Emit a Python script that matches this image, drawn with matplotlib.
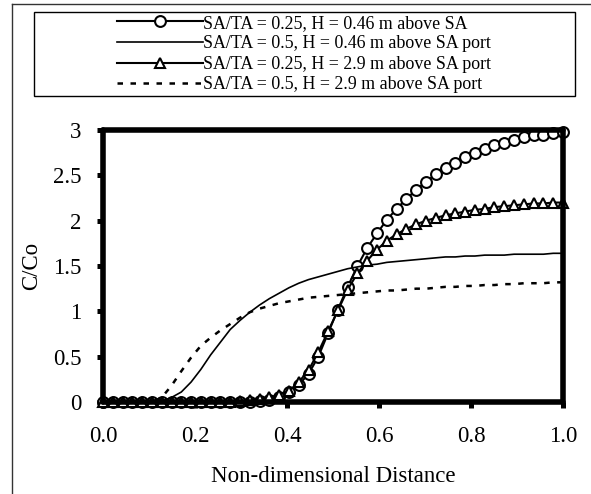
import numpy as np
import matplotlib
matplotlib.use("Agg")
import matplotlib.pyplot as plt
from matplotlib.patches import Rectangle
from matplotlib.lines import Line2D

plt.rcParams['font.family'] = ['Liberation Serif', 'DejaVu Serif']

# non-dimensional distance grid (48 samples, 0 -> 1)
dist = np.linspace(0.0, 1.0, 48)

# SA/TA = 0.25, H = 0.46 m (circles)
c_025_046 = [0, 0, 0, 0, 0, 0, 0, 0, 0, 0, 0, 0, 0, 0, 0, 0,
             0.01, 0.02, 0.05, 0.11, 0.19, 0.31, 0.50, 0.76, 1.02, 1.27,
             1.50, 1.70, 1.86, 2.01, 2.13, 2.24, 2.34, 2.43, 2.51, 2.58,
             2.64, 2.70, 2.75, 2.79, 2.83, 2.86, 2.89, 2.92, 2.94, 2.95,
             2.97, 2.98]
# SA/TA = 0.5, H = 0.46 m (solid)
c_05_046 = [0, 0, 0, 0, 0, 0, 0.01, 0.05, 0.11, 0.22, 0.36, 0.52, 0.66,
            0.80, 0.90, 0.99, 1.07, 1.14, 1.20, 1.26, 1.31, 1.35, 1.38,
            1.41, 1.44, 1.47, 1.49, 1.51, 1.52, 1.54, 1.55, 1.56, 1.57,
            1.58, 1.59, 1.60, 1.60, 1.61, 1.61, 1.62, 1.62, 1.62, 1.63,
            1.63, 1.63, 1.63, 1.64, 1.64]
# SA/TA = 0.25, H = 2.9 m (triangles)
c_025_29 = [0, 0, 0, 0, 0, 0, 0, 0, 0, 0, 0, 0, 0, 0.005, 0.01, 0.02,
            0.03, 0.05, 0.08, 0.12, 0.22, 0.35, 0.55, 0.78, 1.01, 1.24,
            1.42, 1.56, 1.68, 1.78, 1.85, 1.91, 1.96, 2.00, 2.03, 2.06,
            2.08, 2.10, 2.12, 2.13, 2.15, 2.16, 2.17, 2.18, 2.19, 2.19,
            2.20, 2.20]
# SA/TA = 0.5, H = 2.9 m (dashed)
c_05_29 = [0, 0, 0, 0, 0, 0, 0.05, 0.18, 0.34, 0.49, 0.62, 0.71, 0.79,
           0.86, 0.93, 0.99, 1.03, 1.06, 1.09, 1.11, 1.13, 1.15, 1.16,
           1.17, 1.18, 1.19, 1.20, 1.21, 1.22, 1.23, 1.23, 1.24, 1.25,
           1.25, 1.26, 1.27, 1.27, 1.28, 1.28, 1.29, 1.29, 1.30, 1.30,
           1.31, 1.31, 1.31, 1.32, 1.32]

labels = ["SA/TA = 0.25, H = 0.46 m above SA",
          "SA/TA = 0.5, H = 0.46 m above SA port",
          "SA/TA = 0.25, H = 2.9 m above SA port",
          "SA/TA = 0.5, H = 2.9 m above SA port"]

W, H = 591, 494
fig = plt.figure(figsize=(W / 100, H / 100), dpi=100)
ax = fig.add_axes([103 / W, 1 - 402 / H, 460 / W, 272 / H])

l1, = ax.plot(dist, c_025_046, color='black', lw=1.5, marker='o', ms=7.8,
              mfc='white', mec='black', mew=1.5, clip_on=False)
l2, = ax.plot(dist, c_05_046, color='black', lw=1.2, clip_on=False)
l3, = ax.plot(dist, c_025_29, color='black', lw=1.5, marker='^', ms=7.8,
              mfc='white', mec='black', mew=1.5, clip_on=False)
l4, = ax.plot(dist, c_05_29, color='black', lw=1.8, ls=(0, (2.2, 3.0)),
              clip_on=False)

ax.set_xlim(0, 1)
ax.set_ylim(0, 3)
ax.set_xticks([0, 0.2, 0.4, 0.6, 0.8, 1.0])
ax.set_xticklabels(["0.0", "0.2", "0.4", "0.6", "0.8", "1.0"])
ax.set_yticks([0, 0.5, 1, 1.5, 2, 2.5, 3])
ax.set_yticklabels(["0", "0.5", "1", "1.5", "2", "2.5", "3"])
for s in ax.spines.values():
    s.set_linewidth(4)
    s.set_capstyle('round')
ax.tick_params(axis='both', direction='out', length=4.5, width=3.6,
               labelsize=16.5)
ax.tick_params(axis='x', pad=12.5)
ax.tick_params(axis='y', pad=11)
ax.set_xlabel("Non-dimensional Distance", fontsize=16.5, labelpad=14)
ax.set_ylabel("C/Co", fontsize=16.5, labelpad=8)

# legend with a separate wide frame
fig.patches.append(Rectangle((34 / W, 1 - 96 / H), (575 - 34) / W, 84 / H,
                             transform=fig.transFigure, fill=False,
                             edgecolor='black', lw=1.0))
fig.legend([l1, l2, l3, l4], labels, loc='center left',
           bbox_to_anchor=(117 / W, 1 - 54 / H), frameon=False,
           fontsize=12.9, handlelength=4.8, handletextpad=0.0,
           labelspacing=0.2, borderpad=0, borderaxespad=0)

# outer border (top and left only)
fig.lines.append(Line2D([12 / W, 1], [1 - 4 / H, 1 - 4 / H],
                        transform=fig.transFigure, color='#333333', lw=1.0))
fig.lines.append(Line2D([12 / W, 12 / W], [0, 1 - 4 / H],
                        transform=fig.transFigure, color='#333333', lw=1.0))

fig.savefig("out.png", dpi=100)
